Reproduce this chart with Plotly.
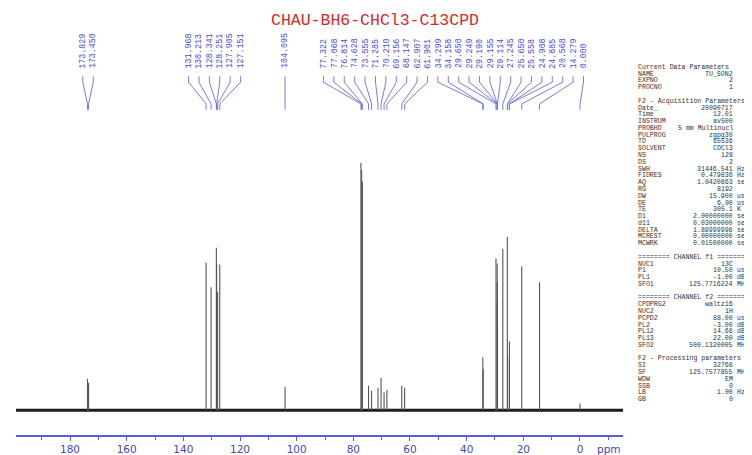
import plotly.graph_objects as go

# ---- data ----
shifts = [173.829, 173.450,
          131.968, 130.213, 128.341, 128.251, 127.905, 127.151,
          104.095,
          77.322, 77.068, 76.814, 74.628, 73.555, 71.285, 70.210, 69.156, 68.147,
          62.907, 61.901,
          34.299, 34.158, 29.650, 29.249, 29.190, 29.155, 29.114, 27.245,
          25.650, 25.558, 24.908, 24.885, 20.568, 14.279, 0.000]
heights = [32, 28,
           150, 125, 165, 148, 120, 148,
           24,
           251, 244, 232, 25, 20, 23, 33, 18, 21,
           25, 23,
           54, 42, 154, 149, 130, 110, 90, 164,
           176, 55, 70, 50, 146, 130, 7]
peak_labels = [f"{v:.3f}" for v in shifts]

major_ticks = [180, 160, 140, 120, 100, 80, 60, 40, 20, 0]
minor_ticks = [190, 170, 150, 130, 110, 90, 70, 50, 30, 10, -10]

title_text = "CHAU-BH6-CHCl3-C13CPD"

param_keys = ["Current Data Parameters", "NAME", "EXPNO", "PROCNO", "",
              "F2 - Acquisition Parameters", "Date_", "Time", "INSTRUM", "PROBHD",
              "PULPROG", "TD", "SOLVENT", "NS", "DS", "SWH", "FIDRES", "AQ", "RG",
              "DW", "DE", "TE", "D1", "d11", "DELTA", "MCREST", "MCWRK", "",
              "======== CHANNEL f1 ========", "NUC1", "P1", "PL1", "SFO1", "",
              "======== CHANNEL f2 ========", "CPDPRG2", "NUC2", "PCPD2", "PL2",
              "PL12", "PL13", "SFO2", "",
              "F2 - Processing parameters", "SI", "SF", "WDW", "SSB", "LB", "GB"]
param_vals = ["", "TU_SON2", "2", "1", "",
              "", "20090717", "12.01", "av500", "5 mm Multinucl",
              "zgpg30", "65536", "CDCl3", "128", "2", "31446.541", "0.479836", "1.0420863", "8192",
              "15.900", "6.00", "305.1", "2.00000000", "0.03000000", "1.89999998", "0.00000000", "0.01500000", "",
              "", "13C", "10.50", "-1.00", "125.7716224", "",
              "", "waltz16", "1H", "88.00", "-3.00",
              "14.68", "22.00", "500.1320005", "",
              "", "32768", "125.7577855", "EM", "0", "1.00", "0"]
param_units = ["", "", "", "", "",
               "", "", "", "", "",
               "", "", "", "", "", "Hz", "Hz", "sec", "",
               "usec", "usec", "K", "sec", "sec", "sec", "sec", "sec", "",
               "", "", "usec", "dB", "MHz", "",
               "", "", "", "usec", "dB",
               "dB", "dB", "MHz", "",
               "", "", "MHz", "", "", "Hz", ""]

# ---- layout geometry ----
W, H = 752, 455
ML, MR, MT, MB = 8, 137, 20, 22
plot_w = W - ML - MR
plot_h = H - MT - MB
x_range = [199.06, -15.18]
y_range = [-25, 388]
ppm_per_px = (x_range[0] - x_range[1]) / plot_w


def px_to_py(py):
    return (H - MB - py) / plot_h


def px_to_px(px):
    return (px - ML) / plot_w


# ---- label spreading (clusters centred on mean peak position) ----
spacing = 10.4 * ppm_per_px
order = sorted(range(len(shifts)), key=lambda i: -shifts[i])
clusters = [[i] for i in order]


def c_center(c):
    return sum(shifts[i] for i in c) / len(c)


merged = True
while merged:
    merged = False
    for k in range(len(clusters) - 1):
        a, b = clusters[k], clusters[k + 1]
        a_right = c_center(a) - (len(a) - 1) * spacing / 2
        b_left = c_center(b) + (len(b) - 1) * spacing / 2
        if a_right - b_left < spacing:
            clusters[k] = a + b
            del clusters[k + 1]
            merged = True
            break

label_x = {}
for c in clusters:
    cen = c_center(c)
    start = cen + (len(c) - 1) * spacing / 2
    for j, i in enumerate(c):
        label_x[i] = start - j * spacing

# ---- traces ----
fig = go.Figure()

# baseline
fig.add_trace(go.Scatter(x=x_range, y=[0, 0], mode="lines",
                         line=dict(color="#1c1c1c", width=3), hoverinfo="skip"))

# peaks as sticks
sx, sy = [], []
for p, h in zip(shifts, heights):
    sx += [p, p, None]
    sy += [0, h, None]
fig.add_trace(go.Scatter(x=sx, y=sy, mode="lines",
                         line=dict(color="#555555", width=1.1), hoverinfo="skip"))

# label connector lines
y_top, y_bend, y_diag, y_end = 339, 333, 311, 305
lx, ly = [], []
for i, p in enumerate(shifts):
    lx += [label_x[i], label_x[i], p, p, None]
    ly += [y_top, y_bend, y_diag, y_end, None]
fig.add_trace(go.Scatter(x=lx, y=ly, mode="lines",
                         line=dict(color="#6a6ae6", width=0.9), hoverinfo="skip"))

annotations = []
for i, lab in enumerate(peak_labels):
    annotations.append(dict(x=label_x[i], y=345, xref="x", yref="y", text=lab,
                            textangle=-90, xanchor="center", yanchor="bottom",
                            showarrow=False,
                            font=dict(family="Liberation Mono", size=8.3, color="#4b4bd6")))

# title
annotations.append(dict(x=px_to_px(367), y=px_to_py(12), xref="paper", yref="paper",
                        text=title_text, showarrow=False, xanchor="center", yanchor="middle",
                        font=dict(family="Liberation Mono", size=16.5, color="#d42a2a")))

# ppm label
annotations.append(dict(x=1.0, y=px_to_py(447), xref="paper", yref="paper", text="ppm",
                        showarrow=False, xanchor="right", yanchor="middle",
                        font=dict(family="DejaVu Sans", size=10.5, color="#4646c0")))

# parameter panel
pitch = 6.88
for n, (k, v, u) in enumerate(zip(param_keys, param_vals, param_units)):
    yy = px_to_py(60 + n * pitch)
    pf = dict(family="Liberation Mono", size=6.6, color="#333333")
    if k:
        annotations.append(dict(x=px_to_px(629), y=yy, xref="paper", yref="paper", text=k,
                                showarrow=False, xanchor="left", yanchor="middle", font=pf,
                                borderpad=0))
    if v:
        annotations.append(dict(x=px_to_px(726), y=yy, xref="paper", yref="paper", text=v,
                                showarrow=False, xanchor="right", yanchor="middle", font=pf,
                                borderpad=0))
    if u:
        annotations.append(dict(x=px_to_px(728), y=yy, xref="paper", yref="paper", text=u,
                                showarrow=False, xanchor="left", yanchor="middle", font=pf,
                                borderpad=0))

fig.update_layout(
    width=W, height=H,
    margin=dict(l=ML, r=MR, t=MT, b=MB),
    paper_bgcolor="white", plot_bgcolor="white",
    showlegend=False,
    annotations=annotations,
    xaxis=dict(range=x_range, tickvals=major_ticks, ticktext=[str(t) for t in major_ticks],
               ticks="outside", ticklen=4, tickwidth=1, tickcolor="#5b5bea",
               minor=dict(tickvals=minor_ticks, ticks="outside", ticklen=3,
                          tickcolor="#5b5bea", showgrid=False),
               showgrid=False, zeroline=False, showline=True,
               linecolor="#5b5bea", linewidth=1.5,
               tickfont=dict(family="DejaVu Sans", size=10.5, color="#4646c0")),
    yaxis=dict(range=y_range, visible=False, showgrid=False, zeroline=False),
)

fig.write_html("out.html")
